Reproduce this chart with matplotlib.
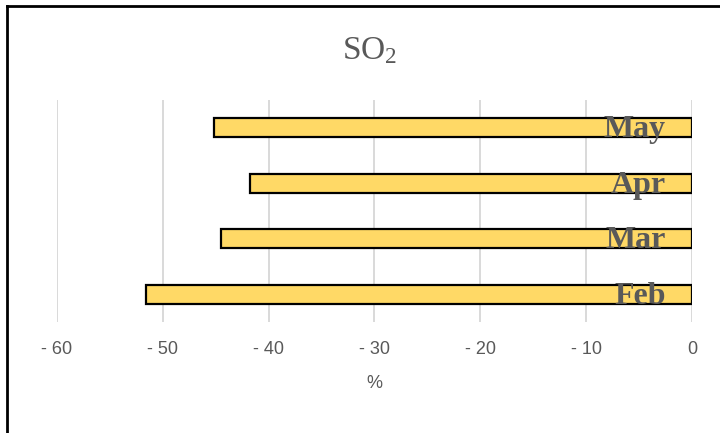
import matplotlib
matplotlib.use("Agg")
import matplotlib.pyplot as plt
from matplotlib.lines import Line2D

months = ["Feb", "Mar", "Apr", "May"]
change_pct = [-51.6, -44.5, -41.8, -45.2]
x_ticks = [-60, -50, -40, -30, -20, -10, 0]
x_tick_labels = ["- 60", "- 50", "- 40", "- 30", "- 20", "- 10", "0"]

plt.rcParams["mathtext.fontset"] = "custom"
plt.rcParams["mathtext.rm"] = "Liberation Serif"
plt.rcParams["mathtext.it"] = "Liberation Serif:italic"
plt.rcParams["mathtext.bf"] = "Liberation Serif:bold"

grey = "#595959"
narrow = ["Liberation Sans Narrow", "Liberation Sans", "DejaVu Sans"]
serif = ["Liberation Serif", "DejaVu Serif"]

fig = plt.figure(figsize=(7.2, 4.33), dpi=100)
ax = fig.add_axes([57 / 720, 1 - 322 / 433, 635 / 720, 222 / 433])

ypos = list(range(len(months)))
ax.barh(ypos, change_pct, height=0.35, color="#FFD966",
        edgecolor="black", linewidth=1.6, zorder=3)

for y, m in zip(ypos, months):
    ax.text(-2.5, y - 0.04, m, ha="right", va="center", fontsize=23,
            fontweight="bold", family=serif, color=grey, zorder=4)

ax.set_xlim(-60, 0)
ax.set_ylim(-0.5, len(months) - 0.5)
ax.set_xticks(x_ticks)
ax.set_xticklabels(x_tick_labels, family=narrow, fontsize=13, color=grey)
ax.set_yticks([])
ax.tick_params(axis="x", length=0, pad=14)
ax.xaxis.grid(True, color="#d9d9d9", linewidth=1.4, zorder=0)
for s in ax.spines.values():
    s.set_visible(False)

ax.set_xlabel("%", family=narrow, fontsize=13, color=grey, labelpad=12)

fig.text(370 / 720, 1 - 50 / 433, r"$\mathrm{SO_2}$", ha="center", va="center",
         fontsize=24, color=grey)

# outer frame (left and top edges)
fig.add_artist(Line2D([7 / 720, 7 / 720], [0, 1 - 6 / 433],
                      transform=fig.transFigure, color="black", linewidth=2))
fig.add_artist(Line2D([7 / 720, 1], [1 - 6 / 433, 1 - 6 / 433],
                      transform=fig.transFigure, color="black", linewidth=2))

fig.savefig("out.png", dpi=100)
